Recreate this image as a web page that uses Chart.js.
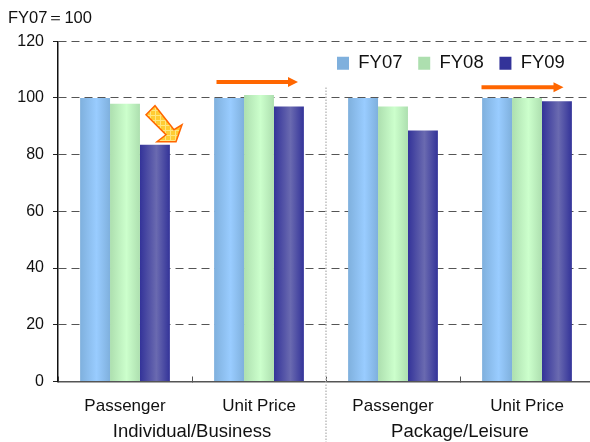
<!DOCTYPE html>
<html>
<head>
<meta charset="utf-8">
<style>
  html, body { margin: 0; padding: 0; background: #fff; overflow: hidden; }
  #wrap { width: 590px; height: 442px; overflow: hidden; }
  canvas { display: block; }
</style>
<script src="https://cdn.jsdelivr.net/npm/chart.js@4/dist/chart.umd.min.js"></script>
</head>
<body>
<div id="wrap"><canvas id="chart" width="600" height="442"></canvas></div>
<script>
const categories = ['Passenger', 'Unit Price', 'Passenger', 'Unit Price'];
const groups = ['Individual/Business', 'Package/Leisure'];
const fy07 = [100, 100, 100, 100];
const fy08 = [98, 101, 97, 100];
const fy09 = [83.5, 97, 88.5, 98.8];
const yTicks = [0, 20, 40, 60, 80, 100, 120];
const seriesNames = ['FY07', 'FY08', 'FY09'];
const baseNote = 'FY07\uFF1D100';

const FONT = '"Liberation Sans", Arial, sans-serif';
const ORANGE = '#FF6600';
const BAR_SHARE = 0.67;
// edge and centre colours of the cylinder shading on each series
const shades = [
  ['#7FB0DD', '#99CCFF'],
  ['#ADDFAF', '#CCFFCC'],
  ['#333399', '#6A6AB0']
];

function shade(ctx, left, width, i) {
  const g = ctx.createLinearGradient(left, 0, left + width, 0);
  g.addColorStop(0, shades[i][0]);
  g.addColorStop(0.55, shades[i][1]);
  g.addColorStop(1, shades[i][0]);
  return g;
}

function barFill(context) {
  const xs = context.chart.scales.x;
  const fallback = shades[context.datasetIndex][1];
  if (!xs || context.dataIndex === undefined) return fallback;
  const w = xs.width / categories.length * BAR_SHARE / seriesNames.length;
  const left = xs.getPixelForValue(context.dataIndex) + (context.datasetIndex - 1.5) * w;
  if (!Number.isFinite(left) || !Number.isFinite(w)) return fallback;
  return shade(context.chart.ctx, left, w, context.datasetIndex);
}

// Legend sits inside the plot; its reserved header height keeps the plot top in place
const legendPlacement = {
  id: 'legendPlacement',
  afterLayout(chart) {
    const lg = chart.legend;
    const pad = lg.options.labels.padding;
    const h = lg.bottom - lg.top;
    const w = lg.right - lg.left;
    lg.left = 337 - pad;
    lg.top = 54 - pad;
    lg.right = lg.left + Math.max(w, 270);
    lg.bottom = lg.top + h + 30;
    let x = 337;
    lg.legendItems.forEach((item, i) => {
      item.fillStyle = shade(chart.ctx, x, lg.options.labels.boxWidth, i);
      x += lg.legendHitBoxes[i].width + pad;
    });
  }
};

// Base note, panel divider and the trend arrows above the bars
const annotations = {
  id: 'annotations',
  afterDraw(chart) {
    const { ctx, scales: { x, y }, height } = chart;
    ctx.save();

    ctx.font = '16.5px ' + FONT;
    ctx.fillStyle = '#111';
    ctx.textBaseline = 'middle';
    ctx.fillText(baseNote, 8, 18);

    const mid = (x.getPixelForValue(1) + x.getPixelForValue(2)) / 2;
    ctx.strokeStyle = '#BDBDBD';
    ctx.lineWidth = 1.5;
    ctx.setLineDash([1.5, 1.5]);
    ctx.beginPath();
    ctx.moveTo(mid, y.getPixelForValue(103.7));
    ctx.lineTo(mid, height);
    ctx.stroke();
    ctx.setLineDash([]);

    flatArrow(ctx, x.getPixelForValue(1) - 42.5, x.getPixelForValue(1) + 39, y.getPixelForValue(105.6));
    flatArrow(ctx, x.getPixelForValue(3) - 45.5, x.getPixelForValue(3) + 36.5, y.getPixelForValue(103.8));
    downArrow(ctx, x.getPixelForValue(0), y.getPixelForValue(83.5));

    ctx.restore();
  }
};

function flatArrow(ctx, x0, x1, yy) {
  ctx.strokeStyle = ORANGE;
  ctx.fillStyle = ORANGE;
  ctx.lineWidth = 4;
  ctx.beginPath();
  ctx.moveTo(x0, yy);
  ctx.lineTo(x1 - 9, yy);
  ctx.stroke();
  ctx.beginPath();
  ctx.moveTo(x1 - 10, yy - 5);
  ctx.lineTo(x1, yy);
  ctx.lineTo(x1 - 10, yy + 5);
  ctx.closePath();
  ctx.fill();
}

function hatch(ctx) {
  const c = document.createElement('canvas');
  c.width = c.height = 5;
  const p = c.getContext('2d');
  p.fillStyle = '#FFCC33';
  p.fillRect(0, 0, 5, 5);
  p.fillStyle = '#FFE680';
  p.fillRect(0, 0, 5, 1);
  p.fillRect(0, 0, 1, 5);
  return ctx.createPattern(c, 'repeat');
}

// Block arrow pointing down-right at the top of the first FY09 bar
function downArrow(ctx, cx, top) {
  const outline = [[21, -30], [30, -39], [49, -15], [57, -20], [51, -3], [32, -3], [41, -10]];
  ctx.beginPath();
  outline.forEach(([dx, dy], i) => {
    const px = cx + dx, py = top + dy;
    if (i) ctx.lineTo(px, py); else ctx.moveTo(px, py);
  });
  ctx.closePath();
  ctx.fillStyle = hatch(ctx);
  ctx.fill();
  ctx.strokeStyle = ORANGE;
  ctx.lineWidth = 1.5;
  ctx.lineJoin = 'miter';
  ctx.stroke();
}

Chart.defaults.font.family = FONT;
Chart.defaults.color = '#111';

new Chart(document.getElementById('chart'), {
  type: 'bar',
  data: {
    labels: categories,
    datasets: [fy07, fy08, fy09].map((values, i) => ({
      label: seriesNames[i],
      data: values,
      backgroundColor: barFill,
      borderWidth: 0,
      barPercentage: 1,
      categoryPercentage: BAR_SHARE
    }))
  },
  options: {
    responsive: false,
    animation: false,
    layout: { padding: { right: 6, left: 0, top: -3, bottom: 0 } },
    plugins: {
      title: { display: false },
      tooltip: { enabled: false },
      legend: {
        position: 'top',
        align: 'start',
        onClick: null,
        labels: {
          boxWidth: 12,
          boxHeight: 13,
          padding: 15.75,
          font: { size: 18.5 },
          color: '#111'
        }
      }
    },
    scales: {
      x: {
        type: 'category',
        position: 'bottom',
        afterFit(s) { s.height = 36; },
        grid: { drawOnChartArea: false, offset: true, tickLength: -5, color: '#555' },
        border: { display: true, color: '#555', width: 1.5 },
        ticks: { font: { size: 17 }, padding: 20, maxRotation: 0, autoSkip: false }
      },
      x2: {
        type: 'category',
        axis: 'x',
        position: 'bottom',
        labels: groups,
        offset: true,
        afterFit(s) { s.height = 24.5; },
        grid: { display: false, drawTicks: false },
        border: { display: false },
        ticks: { font: { size: 18.5 }, padding: 3, maxRotation: 0, autoSkip: false }
      },
      y: {
        min: 0,
        max: 120,
        afterFit(s) { s.width = 58; },
        afterBuildTicks(s) { s.ticks = yTicks.map(value => ({ value })); },
        grid: { color: '#555', tickLength: 5, tickColor: '#222', tickBorderDash: [] },
        border: { color: '#111', width: 1.5, dash: [8, 5] },
        ticks: { font: { size: 16 }, padding: 9 }
      }
    }
  },
  plugins: [legendPlacement, annotations]
});
</script>
</body>
</html>
